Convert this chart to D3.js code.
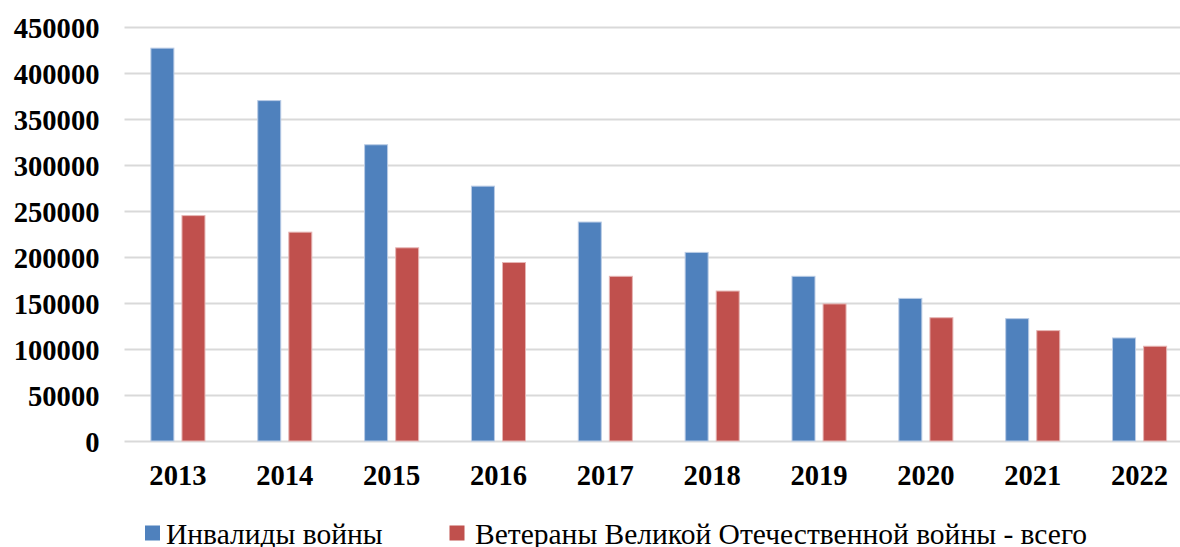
<!DOCTYPE html>
<html>
<head>
<meta charset="utf-8">
<script src="https://cdn.jsdelivr.net/npm/d3@7"></script>
<style>
body{margin:0;background:#fff;}
svg{display:block;}
.grid line{stroke:#d9d9d9;stroke-width:2;}
.grid path{display:none;}
.axis path,.axis line{display:none;}
</style>
</head>
<body>
<div id="chart"></div>
<script>
const width = 1180;
const height = 547;
const margin = {top:27,right:-13,bottom:106,left:124.5};
const serif = "'Liberation Serif', 'Times New Roman', Times, 'DejaVu Serif', serif";

const years = ["2013","2014","2015","2016","2017","2018","2019","2020","2021","2022"];
const invalids = [427000,370000,322000,277000,238000,205000,179000,155000,133000,112000];
const veterans = [245000,227000,210000,194000,179000,163000,149000,134000,120000,103000];
const yTicks = [0,50000,100000,150000,200000,250000,300000,350000,400000,450000];
const seriesNames = ["Инвалиды войны","Ветераны Великой Отечественной войны - всего"];
const colors = ["#4f81bd","#c0504d"];

const data = years.map((y,i)=>({year:y,values:[invalids[i],veterans[i]]}));

const svg = d3.select("#chart")
.append("svg")
.attr("width",width)
.attr("height",height);

const x = d3.scaleBand()
.domain(years)
.range([margin.left,width-margin.right])
.paddingInner(0)
.paddingOuter(0);

const y = d3.scaleLinear()
.domain([0,450000])
.range([height-margin.bottom,margin.top]);

// bar geometry within each band
const bw = x.bandwidth();
const x1 = d3.scaleBand()
.domain([0,1])
.range([bw*0.247,bw*0.753])
.paddingInner(0.26);

// GRID
svg.append("g")
.attr("class","grid")
.attr("transform",`translate(${margin.left},0)`)
.call(
d3.axisLeft(y)
.tickValues(yTicks)
.tickSize(-(width-margin.right-margin.left))
.tickFormat("")
);

// BARS
const groups = svg.selectAll("g.year")
.data(data)
.enter()
.append("g")
.attr("class","year")
.attr("transform",d=>`translate(${x(d.year)},0)`);

groups.selectAll("rect")
.data(d=>d.values)
.enter()
.append("rect")
.attr("x",(d,i)=>x1(i))
.attr("y",d=>y(d))
.attr("width",x1.bandwidth())
.attr("height",d=>y(0)-y(d))
.attr("fill",(d,i)=>colors[i])
.attr("stroke",(d,i)=>i===0?"#b9cbe5":"#e6b5b4")
.attr("stroke-width",1);

// Y AXIS
const yAxis = svg.append("g")
.attr("class","axis")
.attr("transform",`translate(${margin.left-25},0)`)
.call(d3.axisLeft(y).tickValues(yTicks).tickSize(0).tickPadding(0).tickFormat(d3.format("d")));
yAxis.attr("font-family",null).attr("font-size",null);
yAxis.selectAll("text")
.attr("dy","0.35em")
.style("font-family",serif)
.style("font-weight","bold")
.style("font-size","28.6px")
.style("fill","#000");

// X AXIS
const xAxis = svg.append("g")
.attr("class","axis")
.attr("transform",`translate(0,${y(0)})`)
.call(d3.axisBottom(x).tickSize(0).tickPadding(24));
xAxis.attr("font-family",null).attr("font-size",null);
xAxis.selectAll("text")
.style("font-family",serif)
.style("font-weight","bold")
.style("font-size","28.6px")
.style("fill","#000");

// LEGEND
const legendX = [145,449.5];
const legend = svg.append("g");
seriesNames.forEach((name,i)=>{
legend.append("rect")
.attr("x",legendX[i])
.attr("y",525.5)
.attr("width",15)
.attr("height",15)
.attr("fill",colors[i]);
legend.append("text")
.attr("x",legendX[i]+(i===0?21:25.5))
.attr("y",544)
.style("font-family",serif)
.style("font-size","29.5px")
.style("fill","#000")
.text(name);
});
</script>
</body>
</html>
